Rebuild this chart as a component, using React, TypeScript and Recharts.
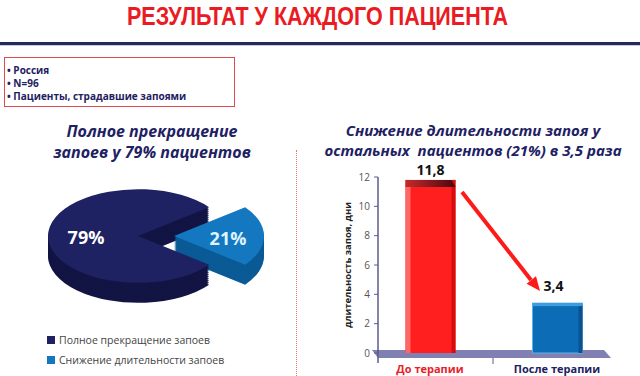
import React from 'react';
import { PieChart, Pie, Cell, BarChart, Bar, XAxis, YAxis, LabelList } from 'recharts';

const PIE_LABELS = ['Полное прекращение запоев', 'Снижение длительности запоев'];
const PIE_VALUES = [79, 21];
const BAR_CATEGORIES = ['До терапии', 'После терапии'];
const BAR_VALUES = [11.8, 3.4];
const Y_TICKS = [0, 2, 4, 6, 8, 10, 12];
const INFO_LINES = ['Россия', 'N=96', 'Пациенты, страдавшие запоями'];

const NAVY = '#1e2162';
const NAVY_SIDE = '#121444';
const BLUE = '#1378bf';
const BLUE_SIDE = '#0a5a96';
const RED = '#ff1f1f';

const pieData = PIE_LABELS.map((name, i) => ({ name, value: PIE_VALUES[i] }));
const barData = BAR_CATEGORIES.map((name, i) => ({ name, value: BAR_VALUES[i] }));

// pie geometry: drawn round, then squashed into an ellipse by the wrapper
const R = 90;
const SQUASH = 0.52;
const PIE_H = 200;
const PIE_CY = PIE_H / 2;
const PIE_CX = 138;
const EXPLODE = 36;
const LAYERS = [20, 18, 16, 14, 12, 10, 8, 6, 4, 2, 0]; // depth in screen px

function Bar3D(props: any) {
  const { x, y, width, height, index } = props;
  if (!height) return null;
  if (index === 0) {
    return (
      <g>
        <rect x={x} y={y} width={width} height={height} fill={RED} />
        <rect x={x} y={y} width={5} height={height} fill="#ff6666" />
        <rect x={x + width - 4} y={y} width={4} height={height} fill="#d80e0e" />
        <polygon
          points={`${x},${y} ${x + width - 4},${y} ${x + width},${y + 7} ${x},${y + 7}`}
          fill="url(#redTop)"
        />
      </g>
    );
  }
  return (
    <g>
      <rect x={x} y={y} width={width} height={height} fill="#0c6db6" stroke="#5fb0e6" strokeWidth={1} />
      <rect x={x + width - 4} y={y + 2} width={4} height={height - 2} fill="#0a5290" />
      <rect x={x} y={y} width={width} height={3} fill="#3a9ee0" />
    </g>
  );
}

function ValueLabel(props: any) {
  const { x, y, width, value, index } = props;
  const dx = index === 0 ? 0 : -4;
  const dy = index === 0 ? -5 : -12;
  return (
    <text
      x={x + width / 2 + dx}
      y={y + dy}
      textAnchor="middle"
      fontFamily="Open Sans"
      fontWeight={700}
      fontSize={14}
      fill="#111"
    >
      {String(value).replace('.', ',')}
    </text>
  );
}

function XTick(props: any) {
  const { x, y, payload, index } = props;
  return (
    <text
      x={x}
      y={y + 12}
      textAnchor="middle"
      fontFamily="Open Sans"
      fontWeight={700}
      fontSize={11}
      fill={index === 0 ? '#e8202a' : NAVY}
    >
      {payload.value}
    </text>
  );
}

function PieLayer({ depth }: { depth: number }) {
  const top = depth === 0;
  return (
    <div
      style={{
        position: 'absolute',
        left: 0,
        top: 236 - PIE_CY + depth,
        width: 300,
        height: PIE_H,
        transform: `scaleY(${SQUASH})`,
        transformOrigin: `0 ${PIE_CY}px`,
      }}
    >
      <PieChart width={300} height={PIE_H} margin={{ top: 0, right: 0, bottom: 0, left: 0 }}>
        <Pie
          data={pieData}
          dataKey="value"
          cx={PIE_CX}
          cy={PIE_CY}
          outerRadius={R}
          startAngle={-37.8}
          endAngle={-397.8}
          stroke="none"
          isAnimationActive={false}
        >
          {pieData.map((_, i) => (
            <Cell key={i} fill={i === 0 ? (top ? NAVY : NAVY_SIDE) : 'transparent'} />
          ))}
        </Pie>
        <Pie
          data={pieData}
          dataKey="value"
          cx={PIE_CX + EXPLODE}
          cy={PIE_CY}
          outerRadius={R}
          startAngle={-37.8}
          endAngle={-397.8}
          stroke="none"
          isAnimationActive={false}
        >
          {pieData.map((_, i) => (
            <Cell key={i} fill={i === 1 ? (top ? BLUE : BLUE_SIDE) : 'transparent'} />
          ))}
        </Pie>
      </PieChart>
    </div>
  );
}

export default function App() {
  const abs = (s: React.CSSProperties): React.CSSProperties => ({ position: 'absolute', ...s });
  return (
    <div style={abs({ left: 0, top: 0, width: 640, height: 376, background: '#fff', overflow: 'hidden', fontFamily: 'Open Sans' })}>
      <div style={abs({ left: 0, top: 4, width: 634, textAlign: 'center' })}>
        <span
          style={{
            display: 'inline-block',
            transform: 'scaleX(0.86)',
            fontFamily: '"Liberation Sans", Arial, sans-serif',
            fontWeight: 700,
            fontSize: 25,
            lineHeight: '25px',
            color: '#ea1b22',
            whiteSpace: 'nowrap',
          }}
        >
          РЕЗУЛЬТАТ У КАЖДОГО ПАЦИЕНТА
        </span>
      </div>
      <div style={abs({ left: 0, top: 42, width: 640, height: 3, background: '#23285e' })} />
      <div style={abs({ left: 0, top: 45, width: 640, height: 1, background: '#c8c8d8' })} />

      <div style={abs({ left: 4, top: 57, width: 229, height: 48, border: '1.5px solid #e04a4f' })} />
      {INFO_LINES.map((line, i) => (
        <div
          key={line}
          style={abs({
            left: 7,
            top: 64 + i * 13,
            color: NAVY,
            fontWeight: 700,
            fontSize: 10,
            lineHeight: '13px',
            whiteSpace: 'nowrap',
          })}
        >
          • {line}
        </div>
      ))}

      <div
        style={abs({
          left: 0,
          top: 121,
          width: 304,
          textAlign: 'center',
          color: NAVY,
          fontWeight: 700,
          fontStyle: 'italic',
          fontSize: 16,
          lineHeight: '21px',
        })}
      >
        Полное прекращение
        <br />
        запоев у 79% пациентов
      </div>

      <div style={abs({ left: 296, top: 150, width: 0, height: 226, borderLeft: '1.5px dotted #e87878' })} />

      <div
        style={abs({
          left: 306,
          top: 120,
          width: 334,
          textAlign: 'center',
          color: NAVY,
          fontWeight: 700,
          fontStyle: 'italic',
          fontSize: 15,
          lineHeight: '20px',
        })}
      >
        Снижение длительности запоя у
        <br />
        остальных&nbsp; пациентов (21%) в 3,5 раза
      </div>

      {LAYERS.map((d) => (
        <PieLayer key={d} depth={d} />
      ))}
      <div style={abs({ left: 66, top: 226, width: 40, textAlign: 'center', color: '#fff', fontWeight: 700, fontSize: 18, lineHeight: '22px' })}>
        {PIE_VALUES[0]}%
      </div>
      <div style={abs({ left: 208, top: 227, width: 40, textAlign: 'center', color: '#dff3ff', fontWeight: 700, fontSize: 18, lineHeight: '22px' })}>
        {PIE_VALUES[1]}%
      </div>

      {PIE_LABELS.map((label, i) => (
        <div key={label} style={abs({ left: 47, top: 334 + i * 20, height: 12, display: 'flex', alignItems: 'center' })}>
          <div style={{ width: 8, height: 8, background: i === 0 ? NAVY : BLUE, marginRight: 4 }} />
          <div style={{ fontSize: 10.5, color: '#444', lineHeight: '12px' }}>{label}</div>
        </div>
      ))}

      {/* floor under the bars */}
      <svg style={abs({ left: 0, top: 0 })} width={640} height={376}>
        <polygon points="372,350 604,350 611,358 378,358" fill="#8080b2" />
        <line x1={378} y1={350} x2={378} y2={363} stroke="#5c5c8c" strokeWidth={1.5} />
        <line x1={493} y1={358} x2={493} y2={364} stroke="#5c5c8c" strokeWidth={1} />
      </svg>

      <div style={abs({ left: 320, top: 150 })}>
        <BarChart width={320} height={226} data={barData} margin={{ top: 27, right: 19.5, bottom: 3, left: 18 }}>
          <defs>
            <linearGradient id="redTop" x1="0" y1="0" x2="1" y2="0">
              <stop offset="0%" stopColor="#c42a2a" />
              <stop offset="100%" stopColor="#4a0810" />
            </linearGradient>
          </defs>
          <XAxis
            dataKey="name"
            axisLine={false}
            tickLine={false}
            height={20}
            padding={{ left: -11.5, right: 0 }}
            tick={<XTick />}
            interval={0}
          />
          <YAxis
            domain={[0, 12]}
            ticks={Y_TICKS}
            width={40}
            tickSize={4}
            tickMargin={4}
            axisLine={{ stroke: '#5c5c8c', strokeWidth: 1.5 }}
            tickLine={{ stroke: '#5c5c8c' }}
            tick={{ fontSize: 10, fill: '#555', fontFamily: 'Open Sans' }}
            label={{
              value: 'длительность запоя, дни',
              angle: -90,
              position: 'insideLeft',
              offset: 10,
              style: { textAnchor: 'middle', fontSize: 9.5, fontWeight: 700, fill: '#222', fontFamily: 'Open Sans' },
            }}
          />
          <Bar dataKey="value" barSize={50} shape={<Bar3D />} isAnimationActive={false}>
            <LabelList dataKey="value" content={<ValueLabel />} />
          </Bar>
        </BarChart>
      </div>

      {/* red arrow */}
      <svg style={abs({ left: 0, top: 0, pointerEvents: 'none' })} width={640} height={376}>
        <line x1={462} y1={192} x2={531} y2={280} stroke="#ff1a1a" strokeWidth={4} />
        <polygon points="540,291 526.6,283.7 536,276.3" fill="#ff1a1a" />
      </svg>
    </div>
  );
}
